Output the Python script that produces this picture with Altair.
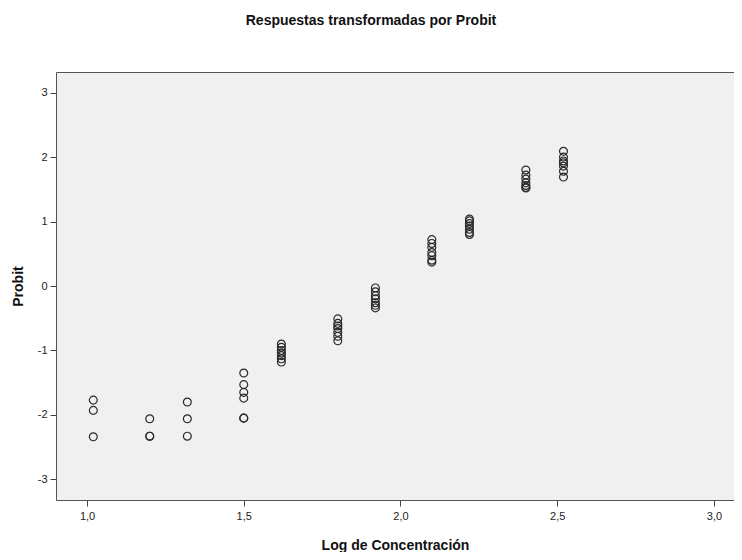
import altair as alt
import pandas as pd

# Log concentration groups and probit values
log_conc = [1.02, 1.20, 1.32, 1.50, 1.62, 1.80, 1.92, 2.10, 2.22, 2.40, 2.52]
probits = [
    [-1.77, -1.93, -2.34],
    [-2.06, -2.33, -2.33],
    [-1.80, -2.06, -2.33],
    [-1.35, -1.53, -1.65, -1.74, -2.05, -2.05],
    [-0.90, -0.95, -1.00, -1.04, -1.08, -1.13, -1.18],
    [-0.51, -0.58, -0.62, -0.66, -0.72, -0.78, -0.85],
    [-0.03, -0.09, -0.15, -0.20, -0.26, -0.30, -0.34],
    [0.72, 0.66, 0.60, 0.52, 0.47, 0.40, 0.37],
    [1.04, 1.01, 0.97, 0.93, 0.88, 0.83, 0.80],
    [1.80, 1.72, 1.66, 1.60, 1.56, 1.53, 1.52],
    [2.09, 2.00, 1.94, 1.91, 1.86, 1.78, 1.69],
]
x_ticks = [1.0, 1.5, 2.0, 2.5, 3.0]
y_ticks = [-3, -2, -1, 0, 1, 2, 3]

rows = []
for xv, ys in zip(log_conc, probits):
    for yv in ys:
        rows.append({"x": xv, "y": yv})
df = pd.DataFrame(rows)

FONT = "Liberation Sans"

chart = alt.Chart(df).mark_point(
    shape="circle", filled=False, size=62, stroke="#2a2a2a", strokeWidth=1.2, opacity=1
).encode(
    x=alt.X("x:Q", scale=alt.Scale(domain=[0.901, 3.064], nice=False, zero=False),
            axis=alt.Axis(values=x_ticks, title="Log de Concentración",
                          labelExpr="replace(format(datum.value, '.1f'), '.', ',')",
                          grid=False, domain=False, tickSize=6, tickColor="#444444",
                          labelPadding=4, labelFontSize=11, labelColor="#222222",
                          labelFont=FONT, titleFont=FONT, titleFontSize=14,
                          titleFontWeight="bold", titleColor="#111111",
                          titleY=45, titleBaseline="middle")),
    y=alt.Y("y:Q", scale=alt.Scale(domain=[-3.32, 3.32], nice=False, zero=False),
            axis=alt.Axis(values=y_ticks, title="Probit",
                          labelExpr="toString(datum.value)",
                          grid=False, domain=False, tickSize=6, tickColor="#444444",
                          labelPadding=3, labelFontSize=11, labelColor="#222222",
                          labelFont=FONT, titleFont=FONT, titleFontSize=14,
                          titleFontWeight="bold", titleColor="#111111",
                          titleX=-38, titleY=214, titleAngle=-90,
                          titleBaseline="middle", titleAlign="center")),
).properties(
    width=678,
    height=428,
    background="white",
    padding={"left": 48, "top": 64, "right": 0, "bottom": 52},
    autosize=alt.AutoSizeParams(type="none"),
    title=alt.TitleParams("Respuestas transformadas por Probit", font=FONT,
                          fontSize=14, fontWeight="bold", color="#111111",
                          anchor="middle", offset=44, dx=-24),
).configure_view(
    fill="#f0f0f0", stroke="#555555", strokeWidth=1
)

chart.save("out.html", embed_options={"renderer": "svg", "actions": False})
